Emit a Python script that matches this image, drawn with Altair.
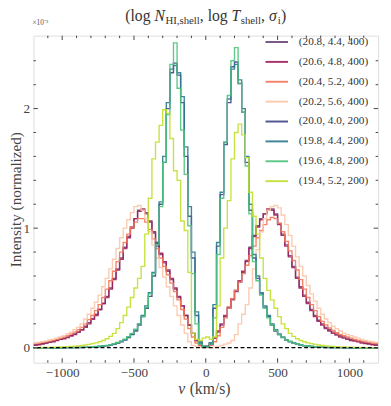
import altair as alt
import numpy as np
import pandas as pd

W, H = 352, 334
x_domain = [-1200, 1200]
y_domain = [-0.125, 2.61]
bin_width = 25

labels = ["(20.8, 4.4, 400)", "(20.6, 4.8, 400)", "(20.4, 5.2, 400)", "(20.2, 5.6, 400)",
          "(20.0, 4.0, 200)", "(19.8, 4.4, 200)", "(19.6, 4.8, 200)", "(19.4, 5.2, 200)"]
colors = ["#6a4478", "#9e1f5c", "#f4785a", "#f9c7aa", "#414487", "#2a788e", "#4cc37c", "#c2df2e"]

# intensities (x 1e-3) per 25 km/s bin, from -1200 to +1200 (left half + right half)
I_208 = [0.025, 0.03, 0.035, 0.04, 0.05, 0.055, 0.065, 0.07, 0.08, 0.09,
         0.10, 0.115, 0.13, 0.15, 0.18, 0.21, 0.24, 0.28, 0.32, 0.37,
         0.43, 0.50, 0.58, 0.66, 0.75, 0.84, 0.93, 1.01, 1.08, 1.15,
         1.15, 1.12, 1.05, 0.96, 0.87, 0.78, 0.71, 0.64, 0.57, 0.49,
         0.42, 0.35, 0.27, 0.19, 0.12, 0.06, 0.03, 0.01] + \
        [0.01, 0.04, 0.08, 0.13, 0.19, 0.26, 0.33, 0.40, 0.47, 0.55,
         0.63, 0.72, 0.84, 0.94, 1.02, 1.08, 1.12, 1.15, 1.16, 1.12,
         1.04, 0.95, 0.86, 0.77, 0.68, 0.59, 0.51, 0.44, 0.38, 0.32,
         0.27, 0.23, 0.20, 0.17, 0.15, 0.13, 0.115, 0.10, 0.09, 0.08,
         0.07, 0.065, 0.055, 0.05, 0.04, 0.035, 0.03, 0.025]
I_206 = [0.02, 0.025, 0.03, 0.04, 0.045, 0.05, 0.06, 0.07, 0.075, 0.085,
         0.10, 0.11, 0.13, 0.15, 0.17, 0.20, 0.24, 0.27, 0.32, 0.37,
         0.42, 0.49, 0.57, 0.65, 0.74, 0.83, 0.92, 1.00, 1.08, 1.14,
         1.16, 1.13, 1.06, 0.97, 0.88, 0.79, 0.72, 0.65, 0.58, 0.50,
         0.43, 0.35, 0.27, 0.19, 0.12, 0.06, 0.02, 0.01] + \
        [0.01, 0.03, 0.08, 0.14, 0.20, 0.27, 0.34, 0.41, 0.48, 0.56,
         0.64, 0.73, 0.83, 0.93, 1.01, 1.07, 1.12, 1.16, 1.15, 1.11,
         1.03, 0.94, 0.85, 0.76, 0.67, 0.58, 0.50, 0.43, 0.37, 0.31,
         0.26, 0.22, 0.19, 0.16, 0.14, 0.12, 0.105, 0.09, 0.08, 0.07,
         0.06, 0.055, 0.05, 0.04, 0.035, 0.03, 0.025, 0.02]
I_204 = [0.035, 0.04, 0.045, 0.05, 0.055, 0.065, 0.07, 0.08, 0.09, 0.10,
         0.115, 0.13, 0.15, 0.17, 0.20, 0.235, 0.27, 0.31, 0.36, 0.42,
         0.49, 0.56, 0.64, 0.72, 0.80, 0.88, 0.95, 1.01, 1.05, 1.08,
         1.08, 1.05, 0.99, 0.91, 0.83, 0.75, 0.68, 0.61, 0.54, 0.47,
         0.40, 0.32, 0.24, 0.16, 0.09, 0.04, 0.015, 0.005] + \
        [0.005, 0.02, 0.05, 0.10, 0.17, 0.25, 0.33, 0.41, 0.48, 0.55,
         0.62, 0.69, 0.77, 0.85, 0.92, 0.98, 1.03, 1.07, 1.09, 1.08,
         1.04, 0.97, 0.89, 0.81, 0.73, 0.65, 0.57, 0.49, 0.42, 0.36,
         0.31, 0.26, 0.22, 0.19, 0.165, 0.145, 0.125, 0.11, 0.10, 0.09,
         0.08, 0.07, 0.06, 0.055, 0.05, 0.045, 0.04, 0.035]
I_202 = [0.04, 0.045, 0.05, 0.055, 0.065, 0.07, 0.08, 0.09, 0.10, 0.115,
         0.13, 0.15, 0.17, 0.20, 0.24, 0.28, 0.33, 0.38, 0.44, 0.51,
         0.58, 0.66, 0.74, 0.83, 0.92, 1.00, 1.07, 1.13, 1.18, 1.19,
         1.15, 1.08, 0.97, 0.86, 0.75, 0.67, 0.59, 0.51, 0.43, 0.35,
         0.27, 0.19, 0.12, 0.05, 0.02, 0.01, 0.005, 0.0] + \
        [0.0, 0.0, 0.005, 0.01, 0.02, 0.03, 0.04, 0.06, 0.11, 0.20,
         0.28, 0.36, 0.50, 0.66, 0.82, 0.97, 1.08, 1.15, 1.18, 1.19,
         1.17, 1.11, 1.03, 0.94, 0.85, 0.76, 0.68, 0.60, 0.52, 0.45,
         0.39, 0.33, 0.28, 0.24, 0.21, 0.18, 0.16, 0.14, 0.12, 0.11,
         0.10, 0.09, 0.08, 0.07, 0.06, 0.055, 0.05, 0.045]
I_200 = [0, 0, 0, 0, 0, 0, 0, 0, 0, 0.001,
         0.001, 0.001, 0.002, 0.002, 0.003, 0.003, 0.004, 0.006, 0.01, 0.013,
         0.017, 0.022, 0.03, 0.04, 0.05, 0.065, 0.085, 0.11, 0.14, 0.19,
         0.26, 0.33, 0.43, 0.60, 0.85, 1.20, 1.55, 2.00, 2.30, 2.38,
         2.28, 2.05, 1.60, 1.10, 0.75, 0.27, 0.04, 0.01] + \
        [0.01, 0.03, 0.33, 0.85, 1.28, 1.70, 2.05, 2.35, 2.39, 2.21,
         1.97, 1.55, 1.15, 0.75, 0.58, 0.45, 0.34, 0.26, 0.19, 0.14,
         0.11, 0.085, 0.065, 0.05, 0.04, 0.03, 0.022, 0.017, 0.013, 0.01,
         0.006, 0.004, 0.003, 0.002, 0.002, 0.001, 0.001, 0.001, 0, 0,
         0, 0, 0, 0, 0, 0, 0, 0]
I_198 = [0, 0, 0, 0, 0, 0, 0, 0, 0.001, 0.001,
         0.001, 0.002, 0.002, 0.003, 0.003, 0.004, 0.005, 0.007, 0.01, 0.014,
         0.018, 0.024, 0.032, 0.042, 0.053, 0.068, 0.088, 0.115, 0.15, 0.20,
         0.27, 0.35, 0.46, 0.63, 0.88, 1.22, 1.60, 2.05, 2.33, 2.36,
         2.30, 2.10, 1.68, 1.18, 0.80, 0.30, 0.05, 0.01] + \
        [0.01, 0.04, 0.36, 0.88, 1.30, 1.72, 2.08, 2.33, 2.37, 2.24,
         2.00, 1.60, 1.20, 0.78, 0.60, 0.46, 0.35, 0.27, 0.20, 0.15,
         0.115, 0.09, 0.068, 0.053, 0.042, 0.032, 0.024, 0.018, 0.014, 0.01,
         0.007, 0.005, 0.004, 0.003, 0.002, 0.002, 0.001, 0.001, 0.001, 0,
         0, 0, 0, 0, 0, 0, 0, 0]
I_196 = [0, 0, 0, 0, 0, 0, 0, 0, 0.001, 0.001,
         0.002, 0.002, 0.003, 0.004, 0.005, 0.006, 0.008, 0.01, 0.013, 0.016,
         0.02, 0.026, 0.034, 0.044, 0.056, 0.072, 0.093, 0.12, 0.155, 0.20,
         0.26, 0.34, 0.45, 0.62, 0.86, 1.18, 1.55, 1.95, 2.37, 2.55,
         2.17, 1.82, 1.45, 1.02, 0.62, 0.20, 0.03, 0.005] + \
        [0.005, 0.03, 0.25, 0.78, 1.25, 1.72, 2.11, 2.40, 2.51, 2.21,
         1.97, 1.52, 1.12, 0.72, 0.56, 0.44, 0.33, 0.25, 0.19, 0.145,
         0.11, 0.087, 0.067, 0.052, 0.04, 0.031, 0.024, 0.018, 0.014, 0.011,
         0.008, 0.006, 0.005, 0.004, 0.003, 0.002, 0.002, 0.001, 0.001, 0,
         0, 0, 0, 0, 0, 0, 0, 0]
I_194 = [0.001, 0.001, 0.002, 0.002, 0.003, 0.004, 0.005, 0.006, 0.007, 0.009,
         0.011, 0.013, 0.016, 0.019, 0.023, 0.028, 0.034, 0.041, 0.05, 0.06,
         0.075, 0.095, 0.12, 0.16, 0.21, 0.27, 0.34, 0.42, 0.50, 0.58,
         0.68, 0.95, 1.25, 1.58, 1.72, 1.86, 1.99, 1.96, 1.75, 1.48,
         1.40, 1.06, 0.98, 0.63, 0.12, 0.07, 0.06, 0.08] + \
        [0.09, 0.07, 0.09, 0.35, 0.75, 1.00, 1.23, 1.58, 1.80, 1.87,
         1.78, 1.59, 1.30, 1.10, 0.95, 0.75, 0.58, 0.48, 0.40, 0.33,
         0.26, 0.20, 0.16, 0.12, 0.095, 0.075, 0.06, 0.05, 0.041, 0.034,
         0.028, 0.023, 0.019, 0.016, 0.013, 0.011, 0.009, 0.007, 0.006, 0.005,
         0.004, 0.003, 0.002, 0.002, 0.001, 0.001, 0.001, 0.001]

series = [I_208, I_206, I_204, I_202, I_200, I_198, I_196, I_194]

x_major = [-1000, -500, 0, 500, 1000]
x_minor = [-1100, -900, -800, -700, -600, -400, -300, -200, -100,
           100, 200, 300, 400, 600, 700, 800, 900, 1100]
y_major = [0, 1, 2]
y_minor = [0.2, 0.4, 0.6, 0.8, 1.2, 1.4, 1.6, 1.8, 2.2, 2.4]

rows = []
for k, (lab, vals) in enumerate(zip(labels, series)):
    assert len(vals) == 96, (lab, len(vals))
    for i, val in enumerate(vals):
        rows.append({"v": x_domain[0] + bin_width * i, "I": val, "s": lab, "k": k})
    rows.append({"v": x_domain[1], "I": vals[-1], "s": lab, "k": k})
df = pd.DataFrame(rows)

FONT = "Liberation Serif"
TXT = "#333333"
LAB = "#444444"
xs = alt.Scale(domain=x_domain, nice=False, zero=False)
ys = alt.Scale(domain=y_domain, nice=False, zero=False)

xaxis = alt.Axis(values=x_major, format="d", ticks=False, domain=False, grid=False,
                 labelFont=FONT, labelFontSize=13.5, labelColor=LAB, labelPadding=3,
                 title=None)
yaxis = alt.Axis(values=y_major, format="d", ticks=False, domain=False, grid=False,
                 labelFont=FONT, labelFontSize=13.5, labelColor=LAB, labelPadding=4,
                 title="Intensity (normalized)", titleFont=FONT, titleFontSize=15.5,
                 titleFontWeight="normal", titleColor=LAB,
                 titleX=-18, titleY=H / 2, titleAngle=270, titleAlign="center",
                 titleBaseline="middle")

lines = alt.Chart(df).mark_line(interpolate="step-after", strokeWidth=1.4, opacity=0.9, clip=True).encode(
    x=alt.X("v:Q", scale=xs, axis=xaxis),
    y=alt.Y("I:Q", scale=ys, axis=yaxis),
    color=alt.Color("s:N", scale=alt.Scale(domain=labels, range=colors),
                    legend=alt.Legend(orient="none", legendX=236, legendY=-6, title=None,
                                      symbolType="stroke", symbolSize=529, symbolStrokeWidth=2,
                                      labelFont=FONT, labelFontSize=11.5, labelColor=TXT,
                                      rowPadding=2.3, labelOffset=10, padding=0)),
    detail="k:N",
)

zero = alt.Chart(pd.DataFrame({"y": [0]})).mark_rule(
    color="black", strokeDash=[4, 2.5], strokeWidth=1.3).encode(
    y=alt.Y("y:Q", scale=ys, axis=yaxis))

TC = "#444444"
def xticks(vals, ln):
    d = pd.DataFrame({"t": vals})
    b = alt.Chart(d).mark_rule(color=TC, strokeWidth=1).encode(
        x=alt.X("t:Q", scale=xs, axis=xaxis), y=alt.value(H), y2=alt.value(H - ln))
    t = alt.Chart(d).mark_rule(color=TC, strokeWidth=1).encode(
        x=alt.X("t:Q", scale=xs, axis=xaxis), y=alt.value(0), y2=alt.value(ln))
    return [b, t]

def yticks(vals, ln):
    d = pd.DataFrame({"t": vals})
    l = alt.Chart(d).mark_rule(color=TC, strokeWidth=1).encode(
        y=alt.Y("t:Q", scale=ys, axis=yaxis), x=alt.value(0), x2=alt.value(ln))
    r = alt.Chart(d).mark_rule(color=TC, strokeWidth=1).encode(
        y=alt.Y("t:Q", scale=ys, axis=yaxis), x=alt.value(W), x2=alt.value(W - ln))
    return [l, r]

ticks = xticks(x_major, 4.5) + xticks(x_minor, 2.5) + yticks(y_major, 4.5) + yticks(y_minor, 2.5)

one = pd.DataFrame({"a": [0]})
def txt(text, x, y, size, italic=False, color=TXT, align="left"):
    return alt.Chart(one).mark_text(text=text, font=FONT, fontSize=size, align=align,
                                    baseline="alphabetic", color=color,
                                    fontStyle="italic" if italic else "normal").encode(
        x=alt.value(x), y=alt.value(y))

# title: (log N_HI,shell, log T_shell, sigma_i)
segs = [("(log ", 16, False, 0, 29.8), ("N", 16, True, 0, 11.2), ("HI,shell", 11, False, 3.3, 35.1),
        (", log ", 16, False, 0, 32.4), ("T", 16, True, 0, 9.4), ("shell", 11, False, 3.3, 20.8),
        (", ", 16, False, 0, 8.0), ("σ", 16, True, 0, 9.0), ("i", 11, False, 3.3, 3.4),
        (")", 16, False, 0, 5.3)]
total = sum(s[4] for s in segs)
cx = W / 2 - total / 2
title_layers = []
for text, size, ital, dy, w in segs:
    title_layers.append(txt(text, cx, -14.7 + dy, size, ital))
    cx += w

xt = [txt("v", 148, 366, 16, True, LAB), txt("(km/s)", 159.5, 366, 16, False, LAB)]
mult = [txt("×10⁻³", -1, -11, 7.5, False, "#555555")]

chart = alt.layer(lines, zero, *ticks, *title_layers, *xt, *mult).properties(
    width=W, height=H,
    autosize=alt.AutoSizeParams(type="none"),
    padding={"left": 26, "top": 24, "right": 5, "bottom": 40},
).configure_view(stroke="#3a3a3a", strokeWidth=1.1).configure(background="white")

chart.save("out.html", embed_options={"renderer": "svg", "actions": False})
